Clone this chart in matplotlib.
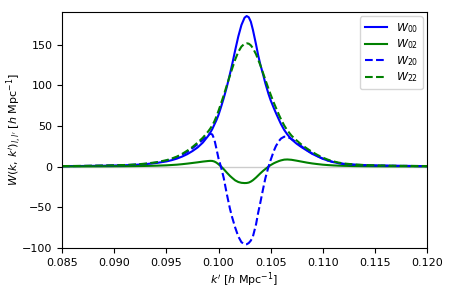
import matplotlib
matplotlib.use("Agg")
import matplotlib.pyplot as plt

k = [0.085, 0.087, 0.089, 0.091, 0.092, 0.093, 0.094, 0.095, 0.0955, 0.096,
     0.0965, 0.097, 0.0975, 0.098, 0.0985, 0.099, 0.0992, 0.0994, 0.0996, 0.0998,
     0.1000, 0.10025, 0.1005, 0.1008, 0.1011, 0.1013, 0.1016, 0.1019, 0.1022, 0.1025,
     0.1027, 0.1029, 0.1031, 0.1033, 0.1036, 0.1038, 0.1040, 0.1043, 0.1045, 0.1048,
     0.1050, 0.1053, 0.1055, 0.1058, 0.1060, 0.1063, 0.1066, 0.1070, 0.1075, 0.1080,
     0.1085, 0.1090, 0.1095, 0.1100, 0.1105, 0.1110, 0.1115, 0.112, 0.113, 0.114,
     0.115, 0.117, 0.120]

W00 = [0.5, 0.7, 1.0, 1.6, 2.1, 3.0, 4.3, 6.3, 7.8, 9.7,
       12.2, 15.2, 19.0, 23.5, 29.5, 37.5, 41.5, 46.0, 51.5, 57.0,
       63.5, 73.5, 84.0, 98.0, 114.0, 125.0, 143.0, 160.0, 174.0, 183.0,
       185.0, 183.5, 178.0, 168.0, 150.0, 137.0, 126.0, 112.0, 102.0, 89.0,
       81.5, 72.0, 66.0, 57.5, 52.0, 45.0, 39.5, 33.5, 28.0, 23.5,
       19.5, 15.5, 12.5, 9.5, 7.3, 5.5, 4.2, 3.3, 2.3, 1.7,
       1.3, 0.9, 0.5]

W02 = [0.1, 0.15, 0.25, 0.4, 0.55, 0.75, 1.05, 1.5, 1.9, 2.3,
       2.9, 3.6, 4.4, 5.2, 6.1, 6.8, 7.0, 6.9, 6.2, 4.8,
       2.8, 0.0, -3.2, -7.5, -11.5, -13.8, -17.0, -19.0, -20.0, -20.3,
       -20.2, -19.7, -18.5, -16.8, -13.5, -11.0, -8.5, -5.0, -3.0, 0.0,
       1.8, 4.0, 5.2, 6.8, 7.6, 8.5, 8.7, 8.3, 7.2, 6.0,
       4.8, 3.8, 3.0, 2.3, 1.8, 1.4, 1.1, 0.9, 0.6, 0.45,
       0.35, 0.2, 0.1]

W20 = [0.5, 0.7, 1.1, 1.7, 2.3, 3.3, 4.8, 7.2, 9.0, 11.3,
       14.3, 18.0, 22.5, 27.5, 33.0, 38.5, 40.3, 39.5, 33.5, 22.0,
       10.0, -1.0, -14.0, -34.0, -52.0, -62.0, -75.0, -86.0, -93.0, -95.5,
       -95.5, -94.0, -91.0, -86.0, -71.0, -57.0, -45.0, -26.0, -14.0, 0.0,
       8.0, 19.0, 25.0, 31.5, 34.5, 36.7, 36.5, 34.0, 29.5, 24.5,
       20.0, 16.0, 12.8, 9.8, 7.4, 5.5, 4.2, 3.2, 2.2, 1.6,
       1.2, 0.8, 0.5]

W22 = [0.6, 0.8, 1.2, 1.9, 2.5, 3.6, 5.2, 7.8, 9.8, 12.2,
       15.5, 19.5, 24.0, 29.5, 35.5, 43.0, 46.5, 50.5, 55.5, 61.5,
       68.5, 78.0, 87.5, 100.0, 112.0, 120.0, 131.5, 141.0, 147.5, 151.0,
       151.5, 151.0, 149.0, 145.5, 138.0, 131.5, 125.0, 114.0, 106.5, 95.5,
       88.5, 78.5, 72.5, 63.5, 58.0, 50.5, 44.5, 38.0, 32.0, 26.5,
       22.0, 17.8, 14.2, 11.0, 8.4, 6.4, 4.9, 3.8, 2.6, 1.9,
       1.5, 1.0, 0.6]

labels = [r"$W_{00}$", r"$W_{02}$", r"$W_{20}$", r"$W_{22}$"]
xticks = [0.085, 0.090, 0.095, 0.100, 0.105, 0.110, 0.115, 0.120]
yticks = [-100, -50, 0, 50, 100, 150]

plt.rcParams["font.size"] = 8
fig = plt.figure(figsize=(4.5, 2.92), dpi=100)
ax = fig.add_axes([0.138, 0.151, 0.811, 0.808])

ax.axhline(0, color="#cccccc", lw=1.0, zorder=1)
ax.plot(k, W00, color="b", ls="-", lw=1.5, label=labels[0])
ax.plot(k, W02, color="g", ls="-", lw=1.5, label=labels[1])
ax.plot(k, W20, color="b", ls="--", lw=1.5, label=labels[2])
ax.plot(k, W22, color="g", ls="--", lw=1.5, label=labels[3])

ax.set_xlim(0.085, 0.120)
ax.set_ylim(-100, 190)
ax.set_xticks(xticks)
ax.set_xticklabels([f"{t:.3f}" for t in xticks])
ax.set_yticks(yticks)
ax.set_xlabel(r"$k'$ [$h$ Mpc$^{-1}$]", labelpad=2)
ax.set_ylabel(r"$W(k,\, k')_{l,l'}$ [$h$ Mpc$^{-1}$]")
ax.yaxis.set_label_coords(-0.105, 0.5)
ax.legend(loc="upper right", fontsize=8, labelspacing=0.25,
          borderaxespad=0.4)

fig.savefig("out.png", dpi=100)
